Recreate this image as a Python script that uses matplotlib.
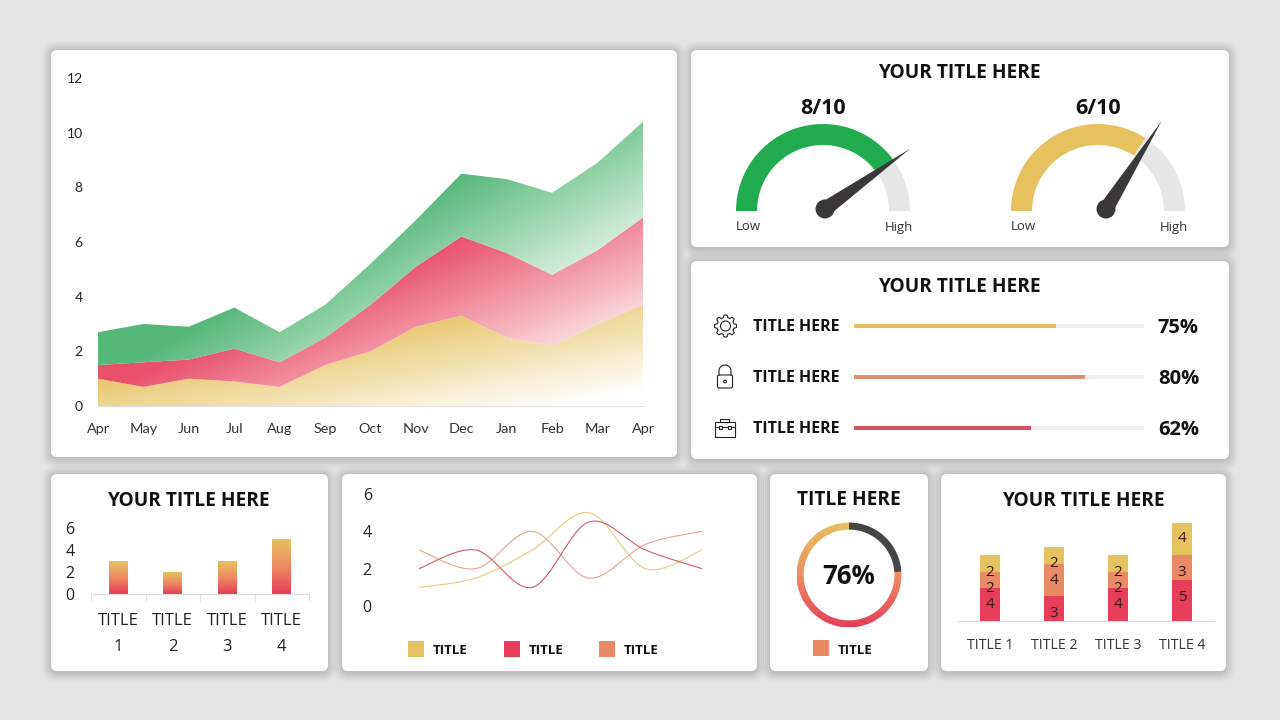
"""Dashboard slide with area, gauge, progress, bar, line and donut panels."""

import matplotlib

matplotlib.use("Agg")
import matplotlib.pyplot as plt
import numpy as np
from matplotlib.colors import LinearSegmentedColormap, to_rgb
from matplotlib.patches import Circle, FancyBboxPatch, PathPatch, Polygon, Rectangle, Wedge
from matplotlib.path import Path

plt.rcParams["font.family"] = ["Open Sans", "DejaVu Sans"]

W, H = 1280, 720

YELLOW = "#E6C15F"
RED = "#E63E58"
ORANGE = "#E98A66"
GREEN = "#22AC50"
DARK = "#3A3838"
INK = "#111111"
TITLE_SIZE = 13.8

# main area chart (stacked)
area_months = ["Apr", "May", "Jun", "Jul", "Aug", "Sep", "Oct", "Nov", "Dec", "Jan", "Feb", "Mar", "Apr"]
area_yellow = [1.0, 0.7, 1.0, 0.9, 0.7, 1.5, 2.0, 2.9, 3.3, 2.5, 2.2, 3.0, 3.7]
area_red = [0.5, 0.9, 0.7, 1.2, 0.9, 1.0, 1.7, 2.2, 2.9, 3.1, 2.6, 2.7, 3.2]
area_green = [1.2, 1.4, 1.2, 1.5, 1.1, 1.2, 1.5, 1.7, 2.3, 2.7, 3.0, 3.2, 3.5]
area_yticks = [0, 2, 4, 6, 8, 10, 12]

# gauges
gauge_labels = ["8/10", "6/10"]
gauge_angles = [36, 57]
needle_angles = [35.3, 57.7]

# progress rows
progress_fill = [69.5, 79.5, 61]
progress_labels = ["75%", "80%", "62%"]

# small bars
small_values = [3, 2, 3, 5]
small_labels = ["TITLE\n1", "TITLE\n2", "TITLE\n3", "TITLE\n4"]

# smooth lines
line_yellow = [1, 1.5, 3, 5, 2, 3]
line_red = [2, 3, 1, 4.5, 3, 2]
line_orange = [3, 2, 4, 1.5, 3.3, 4]
line_yticks = [0, 2, 4, 6]

# donut
donut_share = 76

# stacked bars
stack_labels = ["TITLE 1", "TITLE 2", "TITLE 3", "TITLE 4"]
stack_red = [4, 3, 4, 5]
stack_orange = [2, 4, 2, 3]
stack_yellow = [2, 2, 2, 4]

fig = plt.figure(figsize=(W / 100, H / 100), dpi=100, facecolor="#E4E4E4")

page = fig.add_axes([0, 0, 1, 1], zorder=0)
page.set_xlim(0, W)
page.set_ylim(0, H)
page.axis("off")


def px_axes(left, top, right, bottom):
    ax = fig.add_axes(
        [left / W, 1 - bottom / H, (right - left) / W, (bottom - top) / H], zorder=2
    )
    ax.patch.set_alpha(0)
    return ax


def put(x, y, text, size=10, weight="normal", ha="center", color=INK):
    # +2 px: va=center sits a little high for capitals
    page.text(x, H - y - 2, text, fontsize=size, fontweight=weight, ha=ha, va="center", color=color, zorder=5)


def card(left, top, right, bottom):
    for grow, alpha in [(10, 0.02), (8, 0.03), (6, 0.03), (4, 0.035), (2, 0.04)]:
        page.add_patch(FancyBboxPatch(
            (left - grow + 1, H - bottom - grow - 1), right - left + 2 * grow - 2, bottom - top + 2 * grow,
            boxstyle=f"round,pad=0,rounding_size={6 + grow}", fc="black", ec="none", alpha=alpha, zorder=1,
        ))
    page.add_patch(FancyBboxPatch(
        (left, H - bottom), right - left, bottom - top,
        boxstyle="round,pad=0,rounding_size=6", fc="white", ec="none", zorder=2,
    ))


def blend_to_white(color, t):
    base = np.array(to_rgb(color))
    t = np.clip(t, 0, 1)[..., None]
    return base * (1 - t) + t


def smooth_path(ys):
    # Catmull-Rom beziers through the points, same look as an office smoothed line
    pts = np.column_stack([np.arange(len(ys)), ys]).astype(float)
    verts, codes = [pts[0]], [Path.MOVETO]
    for i in range(len(pts) - 1):
        before = pts[max(i - 1, 0)]
        after = pts[min(i + 2, len(pts) - 1)]
        verts += [pts[i] + (pts[i + 1] - before) / 6, pts[i + 1] - (after - pts[i]) / 6, pts[i + 1]]
        codes += [Path.CURVE4] * 3
    return Path(verts, codes)


for box in [(51, 50, 677, 457), (691, 50, 1229, 247), (691, 261, 1229, 459),
            (51, 474, 328, 671), (342, 474, 757, 671), (770, 474, 928, 671), (941, 474, 1226, 671)]:
    card(*box)

# --- area chart ---
ax = px_axes(98, 78, 643, 406)
xs = np.arange(len(area_months))
tops = np.cumsum([area_yellow, area_red, area_green], axis=0)
lowers = [np.zeros(len(xs)), tops[0], tops[1]]
shades = [  # colour, offset, fade per month, fade per unit of height, reference height
    ("#E8C66A", 0.05, 0.074, 0.24, 3.3),
    ("#E9516A", 0.0, 0.10, 0.14, 6.2),
    ("#55B878", 0.0, 0.124, 0.13, 8.5),
]
grid_x, grid_y = np.meshgrid(np.linspace(0, 12, 300), np.linspace(12, 0, 300))
for (color, off, per_x, per_y, ref), low, top in zip(shades, lowers, tops):
    band = ax.fill_between(xs, low, top, fc="none", ec="none")
    fade = off + per_x * (grid_x - 8) - per_y * (grid_y - ref)
    image = ax.imshow(blend_to_white(color, fade), extent=(0, 12, 0, 12), aspect="auto", zorder=1)
    image.set_clip_path(band.get_paths()[0], ax.transData)
ax.set_xlim(0, 12)
ax.set_ylim(0, 12)
ax.set_xticks(xs, area_months, fontfamily="Lato", fontsize=10.4, color="#333333")
ax.set_yticks(area_yticks, area_yticks, fontfamily="Lato", fontsize=10, color="#222222")
ax.tick_params(length=0)
ax.tick_params(axis="x", pad=12.5)
ax.tick_params(axis="y", pad=11)
for name, spine in ax.spines.items():
    spine.set_visible(name == "bottom")
    spine.set_color("#E0E0E0")

# --- gauges ---
put(959.5, 71, "YOUR TITLE HERE", TITLE_SIZE, "bold")
gauge_specs = [(823, 825, 209, GREEN), (1098, 1106, 209, YELLOW)]
for (cx, pivot_x, pivot_y, color), label, angle, needle_deg in zip(gauge_specs, gauge_labels, gauge_angles, needle_angles):
    page.add_patch(Wedge((cx, H - 211), 87, 0, angle, width=21, fc="#E7E6E7", ec="none", zorder=3))
    page.add_patch(Wedge((cx, H - 211), 87, angle, 180, width=21, fc=color, ec="none", zorder=3))
    put(cx, 106, label, 15.5, "bold")
    put(cx - 75, 225, "Low", 9.5, color="#333333")
    put(cx + 76, 225, "High", 9.5, color="#333333")
    needle = np.radians(needle_deg)
    tip = np.array([pivot_x + 104 * np.cos(needle), H - pivot_y + 104 * np.sin(needle)])
    side = np.array([-np.sin(needle), np.cos(needle)]) * 7.5
    base = np.array([pivot_x, H - pivot_y])
    page.add_patch(Polygon([base + side, tip, base - side], fc=DARK, ec="none", zorder=4))
    page.add_patch(Circle(base, 9.5, fc=DARK, ec="none", zorder=4))

# --- progress rows ---
put(959.5, 285, "YOUR TITLE HERE", TITLE_SIZE, "bold")
ax = px_axes(854, 300.5, 1144, 453.5)
rows = np.arange(3)
ax.barh(rows, [100] * 3, height=0.09, color="#F0F0F0")
ax.barh(rows, progress_fill, height=0.09, color=["#E3BE5F", "#D98E72", "#D94F5B"])
ax.set_xlim(0, 100)
ax.set_ylim(2.5, -0.5)
ax.axis("off")
for row_y, pct in zip([326, 377, 428], progress_labels):
    put(753, row_y - 1, "TITLE HERE", 11.5, "bold", ha="left")
    put(1158, row_y, pct, 14.5, "bold", ha="left")

# line icons
icon = dict(fc="none", ec="#222222", lw=0.8, zorder=4)
theta = np.linspace(0, 2 * np.pi, 240)
radius = 9.8 + 1.2 * np.clip(2.2 * np.cos(8 * theta), -1, 1)
page.add_patch(Polygon(np.column_stack([725.5 + radius * np.cos(theta), H - 326 + radius * np.sin(theta)]), **icon))
page.add_patch(Circle((725.5, H - 326), 5, **icon))
page.add_patch(FancyBboxPatch((717.5, H - 388), 15, 13, boxstyle="round,pad=0,rounding_size=1.5", **icon))
shackle = np.linspace(0, np.pi, 40)
page.plot(
    np.r_[719, 725 + 6 * np.cos(shackle[::-1]), 731],
    np.r_[H - 375, H - 371 + 6 * np.sin(shackle[::-1]), H - 375],
    color="#222222", lw=0.8, zorder=4,
)
page.add_patch(Circle((725, H - 381.5), 1.3, **icon))
page.add_patch(Rectangle((714.5, H - 437), 20, 15.5, **icon))
page.add_patch(Rectangle((720, H - 421.5), 9, 3, **icon))
page.plot([714.5, 734.5], [H - 427, H - 427], color="#222222", lw=0.8, zorder=4)
page.add_patch(Rectangle((718.5, H - 429), 3, 3.5, fc="white", ec="#222222", lw=0.8, zorder=5))
page.add_patch(Rectangle((727.5, H - 429), 3, 3.5, fc="white", ec="#222222", lw=0.8, zorder=5))

# --- small bars ---
put(188.5, 499, "YOUR TITLE HERE", TITLE_SIZE, "bold")
ax = px_axes(91, 528, 309, 594)
bar_cmap = LinearSegmentedColormap.from_list("bar", [RED, "#EE8A62", YELLOW])
bars = ax.bar(range(4), small_values, width=0.34, fc="none", ec="none")
for bar, value in zip(bars, small_values):
    image = ax.imshow(
        np.linspace(1, 0, 64)[:, None], cmap=bar_cmap, vmin=0, vmax=1, aspect="auto", zorder=2,
        extent=(bar.get_x(), bar.get_x() + bar.get_width(), 0, value),
    )
    image.set_clip_path(bar)
ax.set_xlim(-0.5, 3.5)
ax.set_ylim(0, 6)
ax.set_xticks(range(4), small_labels, fontsize=12, color="#222222", linespacing=1.85)
ax.set_yticks([0, 2, 4, 6], [0, 2, 4, 6], fontsize=11.5, color="#222222")
ax.set_xticks([-0.5, 0.5, 1.5, 2.5, 3.5], minor=True)
ax.tick_params(axis="x", which="major", length=0, pad=13.5)
ax.tick_params(axis="x", which="minor", length=5, color="#DDDDDD")
ax.tick_params(axis="y", length=0, pad=12)
for name, spine in ax.spines.items():
    spine.set_visible(name == "bottom")
    spine.set_color("#DDDDDD")

# --- smooth lines ---
ax = px_axes(419, 494, 702, 606)
for values, color in [(line_yellow, "#E3CB80"), (line_orange, "#E3A690"), (line_red, "#CF5A72")]:
    ax.add_patch(PathPatch(smooth_path(values), fc="none", ec=color, lw=0.8, clip_on=False))
ax.set_xlim(0, 5)
ax.set_ylim(0, 6)
ax.set_xticks([])
ax.set_yticks(line_yticks, line_yticks, fontsize=11.5, color="#222222")
ax.tick_params(axis="y", length=0, pad=34)
for spine in ax.spines.values():
    spine.set_visible(False)
for sq_x, color in [(408, YELLOW), (504, RED), (599, ORANGE)]:
    page.add_patch(Rectangle((sq_x, H - 657), 16, 16, fc=color, ec="none", zorder=3))
    put(sq_x + 25, 649, "TITLE", 9.5, "bold", ha="left")

# --- donut ---
put(849, 498, "TITLE HERE", TITLE_SIZE, "bold")
ax = px_axes(796, 522, 902, 628)
gap_start = 90 - (100 - donut_share) * 3.6
ax.add_patch(Wedge((0, 0), 1, gap_start, 90, width=0.135, fc="#464646", ec="none"))
ring = Wedge((0, 0), 1, 90, gap_start + 360, width=0.135, fc="none", ec="none")
ax.add_patch(ring)
ring_cmap = LinearSegmentedColormap.from_list("ring", [YELLOW, "#EC9063", RED])
image = ax.imshow(np.linspace(0, 1, 128)[:, None], cmap=ring_cmap, extent=(-1, 1, -1, 1), aspect="auto")
image.set_clip_path(ring)
ax.set_xlim(-1.01, 1.01)
ax.set_ylim(-1.01, 1.01)
ax.axis("off")
put(849, 575, f"{donut_share}%", 18.5, "bold")
page.add_patch(Rectangle((813, H - 656), 16, 16, fc=ORANGE, ec="none", zorder=3))
put(838, 648, "TITLE", 9.5, "bold", ha="left")

# --- stacked bars ---
put(1083, 499, "YOUR TITLE HERE", TITLE_SIZE, "bold")
ax = px_axes(958, 515, 1214, 621)
x_pos = np.arange(4)
bottom = np.zeros(4)
# labels on the slide do not sit at segment centres, nudged by hand (px up)
red_nudge = [0, -5, 0, 3]
orange_nudge = [-9, 0, -9, -5]
yellow_nudge = [-9, -8, -9, 0]
for values, color, nudges in zip(
    [stack_red, stack_orange, stack_yellow], [RED, ORANGE, YELLOW], [red_nudge, orange_nudge, yellow_nudge]
):
    ax.bar(x_pos, values, width=0.312, bottom=bottom, color=color)
    for pos, value, low, nudge in zip(x_pos, values, bottom, nudges):
        ax.text(pos, low + value / 2 + nudge / 8.2, str(value), ha="center", va="center",
                fontsize=11, color="#3A1A1A")
    bottom = bottom + np.array(values)
ax.set_xlim(-0.5, 3.5)
ax.set_ylim(0, 106 / 8.2)
ax.set_xticks(x_pos, stack_labels, fontsize=10.2, color="#333333")
ax.set_yticks([])
ax.tick_params(axis="x", length=0, pad=12.5)
for name, spine in ax.spines.items():
    spine.set_visible(name == "bottom")
    spine.set_color("#DDDDDD")

fig.savefig("out.png", dpi=100, facecolor=fig.get_facecolor())
